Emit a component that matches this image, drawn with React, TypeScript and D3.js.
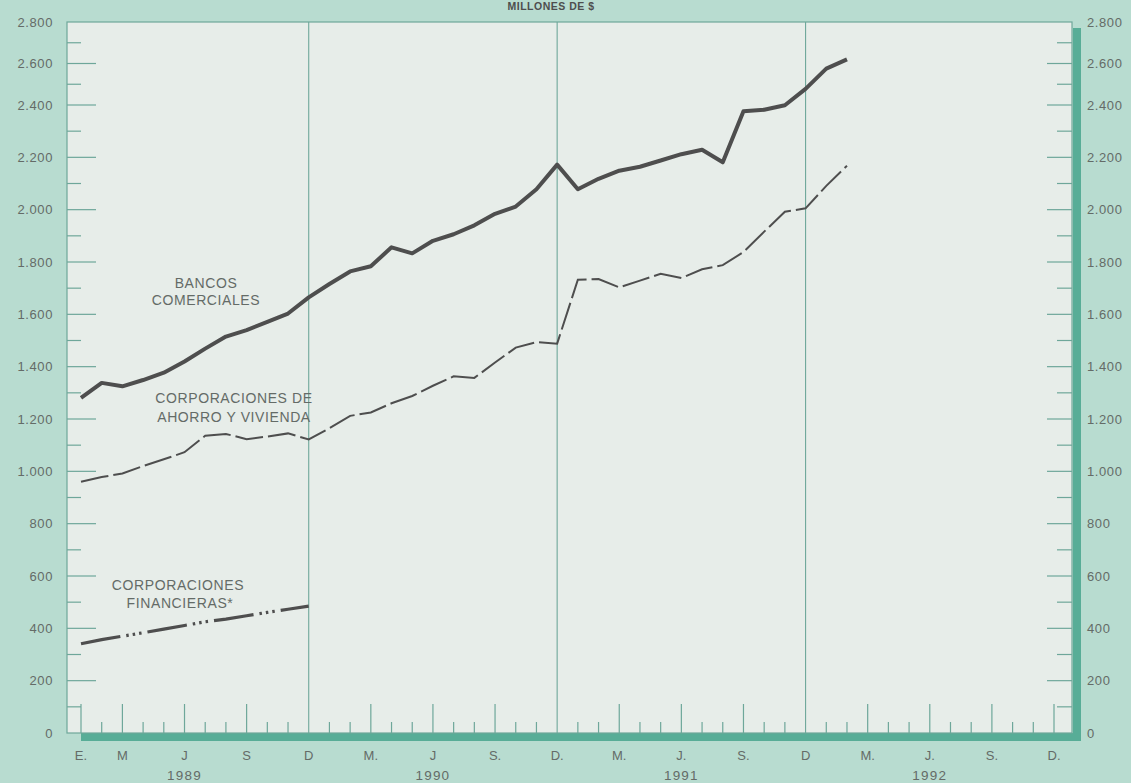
import React from "react";
import * as d3 from "d3";

// ---- data (millones de $), monthly from Jan 1989 ----
const bancosComerciales = [
  1281, 1338, 1325, 1349, 1377, 1420, 1469, 1515, 1540, 1571, 1603, 1665,
  1716, 1764, 1784, 1856, 1833, 1881, 1906, 1940, 1984, 2012, 2078, 2172,
  2078, 2118, 2149, 2164, 2188, 2212, 2229, 2181, 2376, 2382, 2399, 2478,
  2575, 2620,
];
const ahorroVivienda = [
  960, 978, 992, 1020, 1046, 1073, 1136, 1143, 1123, 1133, 1145, 1122,
  1165, 1212, 1225, 1260, 1288, 1327, 1363, 1357, 1416, 1473, 1494, 1488,
  1732, 1735, 1703, 1729, 1755, 1739, 1772, 1788, 1838, 1916, 1992, 2005,
  2091, 2168,
];
const financieras = [341, 357, 370, 383, 397, 411, 425, 435, 448, 461, 473, 485];

const yTicks = [0, 200, 400, 600, 800, 1000, 1200, 1400, 1600, 1800, 2000, 2200, 2400, 2600, 2800];
const yMinor = [100, 300, 500, 700, 900, 1100, 1300, 1500, 1700, 1900, 2100, 2300, 2500, 2700];
const monthLabels = [
  { m: 0, t: "E." }, { m: 2, t: "M" }, { m: 5, t: "J" }, { m: 8, t: "S" }, { m: 11, t: "D" },
  { m: 14, t: "M." }, { m: 17, t: "J" }, { m: 20, t: "S." }, { m: 23, t: "D." },
  { m: 26, t: "M." }, { m: 29, t: "J." }, { m: 32, t: "S." }, { m: 35, t: "D" },
  { m: 38, t: "M." }, { m: 41, t: "J." }, { m: 44, t: "S." }, { m: 47, t: "D." },
];
const years = ["1989", "1990", "1991", "1992"];
const gridMonths = [11, 23, 35];

const W = 1131;
const H = 783;
const BG = "#b8dcd0";
const PLOT = "#e7ede9";
const TEAL = "#58ad97";
const LINE_T = "#6ea79a";
const INK = "#4e4e4e";
const TXT = "#646b67";
const FONT = "'Liberation Sans', Arial, Helvetica, sans-serif";

const fmt = d3.formatLocale({ decimal: ",", thousands: ".", grouping: [3], currency: ["$", ""] }).format(",");

export default function App() {
  const x = d3.scaleLinear().domain([0, 47]).range([81, 1054]);
  // the printed scale is slightly compressed near the top
  const y = d3.scaleLinear().domain([0, 2400, 2800]).range([733, 105, 22]);
  const left = 67;
  const right = 1072;
  const top = y(2800);
  const bottom = y(0);
  const line = d3
    .line<number>()
    .x((_, i) => x(i))
    .y((d) => y(d));

  const months = d3.range(0, 48);

  return (
    <div style={{ position: "absolute", left: 0, top: 0, width: W, height: H }}>
      <svg width={W} height={H} style={{ display: "block", fontFamily: FONT }}>
        <rect x={0} y={0} width={W} height={H} fill={BG} />
        {/* shadow bars */}
        <rect x={x(0)} y={bottom} width={1081 - x(0)} height={8} fill={TEAL} />
        <rect x={right + 1} y={top + 6} width={8} height={bottom + 8 - top - 6} fill={TEAL} />
        {/* plot area */}
        <rect x={left} y={top} width={right - left} height={bottom - top} fill={PLOT} stroke={LINE_T} strokeWidth={1.2} />
        {/* vertical year grid lines */}
        {gridMonths.map((m) => (
          <line key={m} x1={x(m)} x2={x(m)} y1={top} y2={bottom} stroke={LINE_T} strokeWidth={1.1} />
        ))}
        {/* y ticks */}
        {yTicks.filter((v) => v > 0 && v < 2800).map((v) => (
          <g key={v}>
            <line x1={left} x2={left + 29} y1={y(v)} y2={y(v)} stroke={LINE_T} strokeWidth={1.2} />
            <line x1={right - 25} x2={right} y1={y(v)} y2={y(v)} stroke={LINE_T} strokeWidth={1.2} />
          </g>
        ))}
        {yMinor.map((v) => (
          <g key={v}>
            <line x1={left} x2={left + 14} y1={y(v)} y2={y(v)} stroke={LINE_T} strokeWidth={1.2} />
            <line x1={right - 15} x2={right} y1={y(v)} y2={y(v)} stroke={LINE_T} strokeWidth={1.2} />
          </g>
        ))}
        {yTicks.map((v) => (
          <g key={"l" + v} fontSize={13} fill={TXT} letterSpacing={0.6}>
            <text x={53} y={y(v)} dy="0.35em" textAnchor="end">{fmt(v)}</text>
            <text x={1087} y={y(v)} dy="0.35em" textAnchor="start">{fmt(v)}</text>
          </g>
        ))}
        {/* x ticks */}
        {months.filter((m) => !gridMonths.includes(m)).map((m) => {
          const tall = m === 0 || m % 3 === 2;
          return (
            <line key={m} x1={x(m)} x2={x(m)} y1={bottom} y2={bottom - (tall ? 29 : 11)} stroke={LINE_T} strokeWidth={1.2} />
          );
        })}
        {monthLabels.map((d) => (
          <text key={d.m} x={x(d.m)} y={760} textAnchor="middle" fontSize={13} fill={TXT}>{d.t}</text>
        ))}
        {years.map((yr, i) => (
          <text key={yr} x={x(i * 12 + 5)} y={780} textAnchor="middle" fontSize={13.5} fill={TXT} letterSpacing={1.2}>{yr}</text>
        ))}
        {/* title */}
        <text x={551} y={10} textAnchor="middle" fontSize={10.5} fontWeight="bold" fill={INK} letterSpacing={0.5}>MILLONES DE $</text>
        {/* series */}
        <path d={line(bancosComerciales) ?? ""} fill="none" stroke={INK} strokeWidth={4} strokeLinejoin="round" />
        <path d={line(ahorroVivienda) ?? ""} fill="none" stroke={INK} strokeWidth={2} strokeDasharray="28 5" />
        <path d={line(financieras) ?? ""} fill="none" stroke={INK} strokeWidth={3.2} strokeDasharray="40 6 2.5 4 2.5 4 2.5 6" />
        {/* series labels */}
        <g fontSize={14} fill={TXT} textAnchor="middle" letterSpacing={0.6}>
          <text x={206} y={288}>BANCOS</text>
          <text x={206} y={305}>COMERCIALES</text>
          <text x={234} y={403}>CORPORACIONES DE</text>
          <text x={234} y={422}>AHORRO Y VIVIENDA</text>
          <text x={178} y={590}>CORPORACIONES</text>
          <text x={180} y={608}>FINANCIERAS*</text>
        </g>
      </svg>
    </div>
  );
}
